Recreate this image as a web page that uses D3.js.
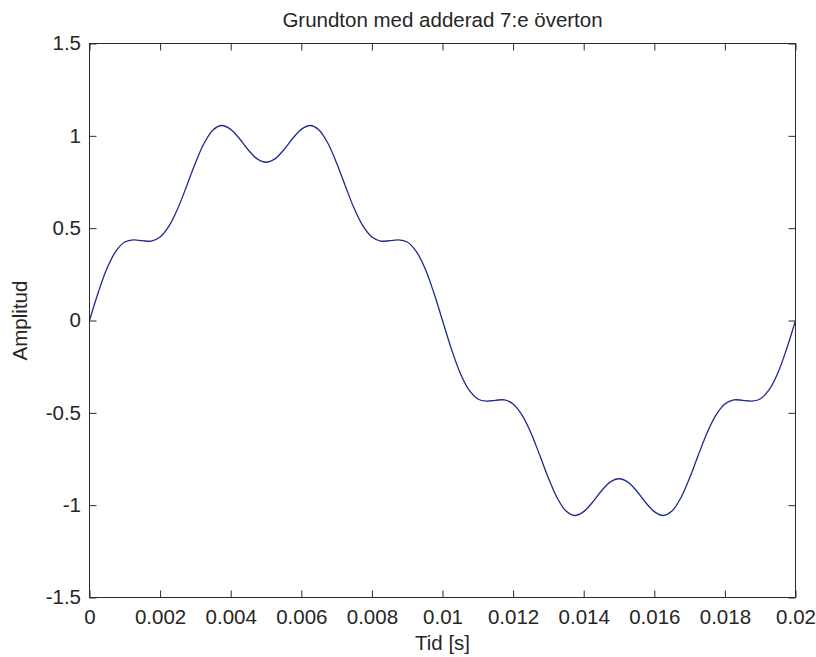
<!DOCTYPE html>
<html>
<head>
<meta charset="utf-8">
<script src="https://cdn.jsdelivr.net/npm/d3@7"></script>
<style>
  html, body { margin: 0; padding: 0; background: #fff; }
  svg { display: block; }
  text { font-family: "Liberation Sans", Arial, sans-serif; fill: #262626; }
</style>
</head>
<body>
<svg id="chart" width="816" height="657"></svg>
<script>
// ---- data ----
const titleText = "Grundton med adderad 7:e överton";
const xLabelText = "Tid [s]";
const yLabelText = "Amplitud";

const timeStep = 0.00025; // sample spacing in seconds
const amplitude = [
  0, 0.153, 0.284, 0.376, 0.425, 0.437, 0.432, 0.430, 0.452, 0.511,
  0.606, 0.727, 0.853, 0.961, 1.032, 1.056, 1.035, 0.984, 0.923, 0.875,
  0.857, 0.875, 0.923, 0.984, 1.035, 1.056, 1.032, 0.961, 0.853, 0.727,
  0.606, 0.511, 0.452, 0.430, 0.432, 0.437, 0.425, 0.376, 0.284, 0.153,
  0, -0.153, -0.284, -0.376, -0.425, -0.437, -0.432, -0.430, -0.452, -0.511,
  -0.606, -0.727, -0.853, -0.961, -1.032, -1.056, -1.035, -0.984, -0.923, -0.875,
  -0.857, -0.875, -0.923, -0.984, -1.035, -1.056, -1.032, -0.961, -0.853, -0.727,
  -0.606, -0.511, -0.452, -0.430, -0.432, -0.437, -0.425, -0.376, -0.284, -0.153,
  0
];
const time = amplitude.map((_, i) => +(i * timeStep).toFixed(5));

const xTicks = [0, 0.002, 0.004, 0.006, 0.008, 0.01, 0.012, 0.014, 0.016, 0.018, 0.02];
const xTickLabels = ["0", "0.002", "0.004", "0.006", "0.008", "0.01", "0.012", "0.014", "0.016", "0.018", "0.02"];
const yTicks = [-1.5, -1, -0.5, 0, 0.5, 1, 1.5];
const yTickLabels = ["-1.5", "-1", "-0.5", "0", "0.5", "1", "1.5"];

// ---- layout ----
const plot = { left: 89.5, right: 795.5, top: 43.5, bottom: 597.5 };
const tickLen = 7;
const fontSize = 20.5;

const svg = d3.select("#chart");

const x = d3.scaleLinear().domain([0, 0.02]).range([plot.left, plot.right]);
const y = d3.scaleLinear().domain([-1.5, 1.5]).range([plot.bottom, plot.top]);

// white axes background
svg.append("rect")
  .attr("x", plot.left).attr("y", plot.top)
  .attr("width", plot.right - plot.left).attr("height", plot.bottom - plot.top)
  .attr("fill", "#fff");

// data line
const line = d3.line()
  .x((d, i) => x(time[i]))
  .y(d => y(d))
  .curve(d3.curveCatmullRom.alpha(0.5));

svg.append("path")
  .datum(amplitude)
  .attr("d", line)
  .attr("fill", "none")
  .attr("stroke", "#1e2a8c")
  .attr("stroke-width", 1.3);

function styleAxis(g) {
  g.select(".domain").remove();
  g.selectAll(".tick line").attr("stroke", "#2b2b2b").attr("stroke-width", 1);
  g.selectAll(".tick text")
    .attr("font-size", fontSize)
    .attr("font-family", "'Liberation Sans', Arial, sans-serif")
    .attr("fill", "#262626");
}

// bottom axis (with labels)
const xAxisBottom = d3.axisBottom(x)
  .tickValues(xTicks)
  .tickSizeInner(-tickLen).tickSizeOuter(0)
  .tickPadding(12)
  .tickFormat((d, i) => xTickLabels[i]);
svg.append("g")
  .attr("transform", `translate(0,${plot.bottom})`)
  .call(xAxisBottom)
  .call(styleAxis)
  .call(g => g.selectAll(".tick text").attr("y", 26.5).attr("dy", null));

// top axis (ticks only)
svg.append("g")
  .attr("transform", `translate(0,${plot.top})`)
  .call(d3.axisTop(x).tickValues(xTicks).tickSizeInner(-tickLen).tickSizeOuter(0).tickFormat(""))
  .call(styleAxis);

// left axis (with labels)
const yAxisLeft = d3.axisLeft(y)
  .tickValues(yTicks)
  .tickSizeInner(-tickLen).tickSizeOuter(0)
  .tickPadding(8.5)
  .tickFormat((d, i) => yTickLabels[i]);
svg.append("g")
  .attr("transform", `translate(${plot.left},0)`)
  .call(yAxisLeft)
  .call(styleAxis)
  .call(g => g.selectAll(".tick text").attr("x", -8.5).attr("dy", null).attr("y", 6.3));

// right axis (ticks only)
svg.append("g")
  .attr("transform", `translate(${plot.right},0)`)
  .call(d3.axisRight(y).tickValues(yTicks).tickSizeInner(-tickLen).tickSizeOuter(0).tickFormat(""))
  .call(styleAxis);

// box
svg.append("rect")
  .attr("x", plot.left).attr("y", plot.top)
  .attr("width", plot.right - plot.left).attr("height", plot.bottom - plot.top)
  .attr("fill", "none")
  .attr("stroke", "#2b2b2b")
  .attr("stroke-width", 1);

// title
svg.append("text")
  .attr("x", (plot.left + plot.right) / 2)
  .attr("y", 26.5)
  .attr("text-anchor", "middle")
  .attr("font-size", fontSize)
  .text(titleText);

// x label
svg.append("text")
  .attr("x", (plot.left + plot.right) / 2)
  .attr("y", 650)
  .attr("text-anchor", "middle")
  .attr("font-size", fontSize)
  .text(xLabelText);

// y label
svg.append("text")
  .attr("transform", `translate(27,${(plot.top + plot.bottom) / 2}) rotate(-90)`)
  .attr("text-anchor", "middle")
  .attr("font-size", fontSize)
  .text(yLabelText);
</script>
</body>
</html>
